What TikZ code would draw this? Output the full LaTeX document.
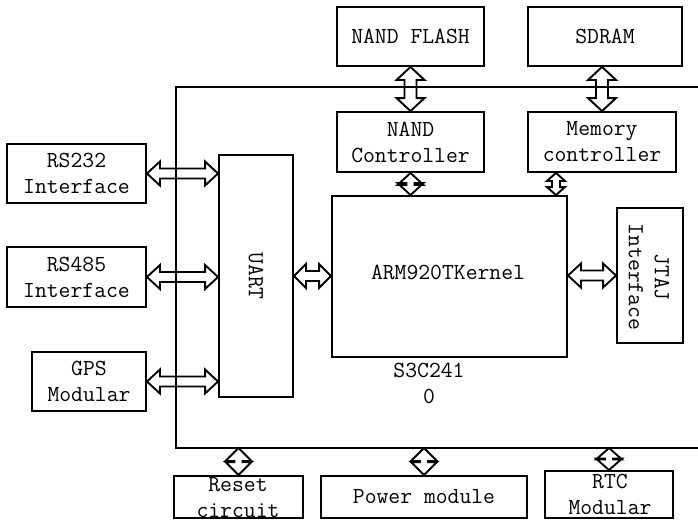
\documentclass[tikz,border=0pt]{standalone}
\usepackage{fontspec}
\usetikzlibrary{calc}
\tikzset{
  box/.style={draw, line width=1.9pt, inner sep=0pt, anchor=center},
  txt/.style={font=\ttfamily\fontsize{23}{26}\selectfont, align=center, inner sep=0pt},
  arrline/.style={draw, line width=1.9pt, line join=miter},
}
\newcommand\harrow[5]{%
  \draw[arrline] let \p1=#1, \p2=#2 in
   (\x1,\y1) -- (\x1+#5,\y1+#4) -- (\x1+#5,\y1+#3) -- (\x2-#5,\y1+#3) -- (\x2-#5,\y1+#4)
   -- (\x2,\y1) -- (\x2-#5,\y1-#4) -- (\x2-#5,\y1-#3) -- (\x1+#5,\y1-#3) -- (\x1+#5,\y1-#4) -- cycle;}
\newcommand\varrow[5]{%
  \draw[arrline] let \p1=#1, \p2=#2 in
   (\x1,\y1) -- (\x1+#4,\y1-#5) -- (\x1+#3,\y1-#5) -- (\x1+#3,\y2+#5) -- (\x1+#4,\y2+#5)
   -- (\x1,\y2) -- (\x1-#4,\y2+#5) -- (\x1-#3,\y2+#5) -- (\x1-#3,\y1-#5) -- (\x1-#4,\y1-#5) -- cycle;}
\begin{document}
\begin{tikzpicture}[x=1pt,y=-1pt]
\useasboundingbox[fill=white] (0,0) rectangle (698,523);
% big S3C2410 frame
\coordinate (bbtr) at (700,87);
\coordinate (bbtl) at (176,87);
\coordinate (bbbl) at (176,448);
\coordinate (bbbr) at (700,448);
\draw[line width=1.9pt] (bbtr) -- (bbtl) -- (bbbl) -- (bbbr);
% boxes
\node[box, txt, minimum width=139pt, minimum height=59pt] (rs232) at (76.5,173.5) {RS232\\Interface};
\node[box, txt, minimum width=139pt, minimum height=60pt] (rs485) at (76.5,277) {RS485\\Interface};
\node[box, txt, minimum width=114pt, minimum height=59pt] (gps) at (89,381.5) {GPS\\Modular};
\node[box, minimum width=74pt, minimum height=242pt] (uart) at (256,276) {};
\node[txt, rotate=-90] (uartt) at (uart.center) {UART};
\node[box, minimum width=235pt, minimum height=161pt] (arm) at (449.5,276.5) {};
\node[txt] (armt) at (448,272) {ARM920TKernel};
\node[txt] (s3c) at (429,383) {S3C241\\0};
\node[box, txt, minimum width=147pt, minimum height=59pt] (nflash) at (410.5,36.5) {NAND FLASH};
\node[box, txt, minimum width=154pt, minimum height=59pt] (sdram) at (605,36.5) {SDRAM};
\node[box, txt, minimum width=147pt, minimum height=60pt] (nctrl) at (410.5,142) {NAND\\Controller};
\node[box, txt, minimum width=148pt, minimum height=60pt] (mctrl) at (602,142) {Memory\\controller};
\node[box, minimum width=66pt, minimum height=135pt] (jtaj) at (650,275.5) {};
\node[txt, rotate=-90] (jtajt) at (649,277) {JTAJ\\Interface};
\node[box, minimum width=129pt, minimum height=42pt] (reset) at (238.5,497) {};
\node[txt] (resett) at (238,497.5) {Reset\\circuit};
\node[box, txt, minimum width=206pt, minimum height=42pt] (power) at (424,497) {Power module};
\node[box, minimum width=128pt, minimum height=47pt] (rtc) at (609,494.5) {};
\node[txt] (rtct) at (610,494.5) {RTC\\Modular};
% arrows
\harrow{(rs232.east)}{(uart.west |- rs232.east)}{5pt}{12pt}{13pt}
\harrow{(rs485.east)}{(uart.west |- rs485.east)}{5pt}{12pt}{13pt}
\harrow{(gps.east)}{(uart.west |- gps.east)}{5pt}{12pt}{13pt}
\harrow{(uart.east)}{(arm.west |- uart.east)}{5pt}{12pt}{12pt}
\harrow{(arm.east |- jtaj.west)}{(jtaj.west)}{5pt}{12pt}{13pt}
\varrow{(nflash.south)}{(nctrl.north)}{6pt}{14pt}{13pt}
\varrow{(mctrl.north |- sdram.south)}{(mctrl.north)}{6pt}{14pt}{13pt}
\varrow{(nctrl.south)}{(nctrl.south |- arm.north)}{4pt}{13pt}{12pt}
\coordinate (ma) at ([xshift=-12pt]arm.north east);
\varrow{(ma |- mctrl.south)}{(ma)}{4pt}{9pt}{8pt}
\varrow{(reset.north |- bbbl)}{(reset.north)}{4pt}{13pt}{13pt}
\varrow{(power.north |- bbbl)}{(power.north)}{4pt}{13pt}{13pt}
\varrow{(rtc.north |- bbbl)}{(rtc.north)}{4pt}{13pt}{11.5pt}
\end{tikzpicture}
\end{document}
